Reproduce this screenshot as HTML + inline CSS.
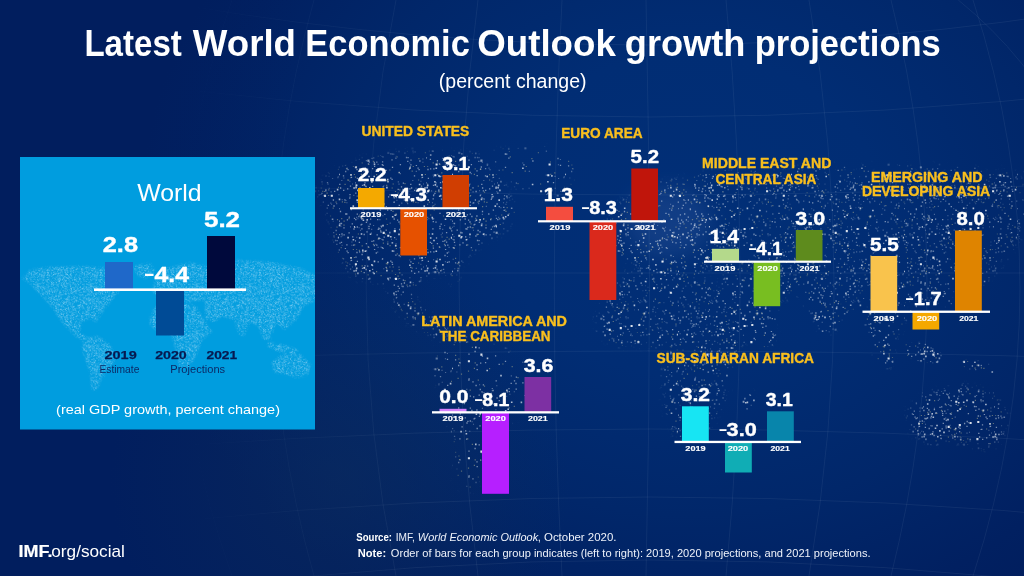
<!DOCTYPE html>
<html lang="en"><head><meta charset="utf-8"><title>Latest World Economic Outlook growth projections</title>
<style>
html,body{margin:0;padding:0;background:#011e5f;}
body{width:1024px;height:576px;overflow:hidden;}
svg{display:block;font-family:"Liberation Sans",sans-serif;}
</style></head><body>
<svg width="1024" height="576" viewBox="0 0 1024 576">
<defs>
<radialGradient id="bg" gradientUnits="userSpaceOnUse" cx="690" cy="215" r="550" gradientTransform="translate(690 215) scale(1 0.84) translate(-690 -215)">
<stop offset="0" stop-color="#012f77"/>
<stop offset="0.35" stop-color="#012d74"/>
<stop offset="0.65" stop-color="#01276a"/>
<stop offset="0.9" stop-color="#012061"/>
<stop offset="1" stop-color="#011e5e"/>
</radialGradient>
<linearGradient id="lf" x1="0" x2="1" y1="0" y2="0">
<stop offset="0" stop-color="#011e5e" stop-opacity="0.5"/>
<stop offset="1" stop-color="#011e5e" stop-opacity="0"/>
</linearGradient>
<radialGradient id="gr" gradientUnits="userSpaceOnUse" cx="340" cy="480" r="230">
<stop offset="0" stop-color="#0e2e5c" stop-opacity="0.5"/>
<stop offset="1" stop-color="#0e2e5c" stop-opacity="0"/>
</radialGradient>
<pattern id="dA" width="113" height="97" patternUnits="userSpaceOnUse"><path d="M17.0 63.1h0M60.6 35.5h0M57.3 3.6h0M70.9 91.9h0M97.0 28.1h0M13.3 29.9h0M6.7 20.0h0M47.2 73.4h0M55.3 3.8h0M43.6 64.9h0M52.2 16.3h0M6.7 74.5h0M28.0 37.9h0M99.9 92.9h0M19.9 22.5h0M54.8 57.1h0M0.5 40.6h0M64.0 92.5h0M45.1 10.0h0M18.3 33.0h0M0.0 14.7h0M41.1 2.5h0M39.3 35.3h0M95.9 96.3h0M38.7 25.7h0M41.4 16.2h0M25.2 78.7h0M31.6 25.1h0M24.9 22.0h0M23.1 60.5h0M17.1 87.8h0M27.2 56.9h0M47.3 12.7h0M0.4 77.5h0M53.5 70.3h0M13.7 42.9h0M27.2 7.1h0M80.9 64.0h0M99.8 93.9h0M107.6 38.6h0M48.8 50.0h0M22.1 30.9h0M30.0 3.8h0M16.9 89.2h0M77.8 41.3h0M106.0 61.5h0M97.5 44.0h0M62.5 89.9h0M14.6 51.1h0M12.4 15.7h0M22.8 30.3h0M85.8 28.1h0M28.3 1.5h0M39.3 5.3h0M8.0 71.9h0M18.4 8.2h0M27.4 28.4h0M108.7 94.3h0M40.3 0.1h0M53.6 48.8h0M57.0 0.5h0M10.1 38.8h0M2.5 29.5h0M66.2 51.3h0M15.0 35.0h0M94.4 54.2h0M8.4 25.8h0M28.7 72.1h0M64.2 1.2h0M30.4 65.2h0M101.0 19.3h0M59.2 92.4h0M92.7 49.3h0M55.6 43.7h0M15.9 33.4h0M94.9 0.2h0M42.1 38.1h0M94.3 27.7h0M33.6 71.7h0M63.0 38.3h0M18.3 20.2h0M21.7 8.8h0M10.3 23.2h0M64.4 86.1h0M31.4 93.9h0M56.9 61.1h0M45.2 43.2h0M3.6 68.8h0M44.2 89.9h0M12.3 15.0h0M71.9 67.8h0M7.9 50.9h0M108.5 68.4h0M2.5 48.3h0M38.2 40.8h0M25.0 73.8h0M107.6 48.1h0M25.2 40.5h0M24.1 94.5h0M5.9 5.8h0M101.5 85.7h0M21.0 90.8h0M42.2 32.2h0M0.3 27.1h0M108.0 12.0h0" stroke="#ffffff" stroke-opacity="0.48" stroke-width="1.3" stroke-linecap="square" fill="none"/><path d="M7.9 8.8h0M93.4 12.0h0M44.8 94.7h0M42.1 53.1h0M51.2 29.1h0M59.3 84.9h0M65.5 44.3h0M112.2 79.7h0M99.8 79.5h0M7.0 6.5h0M54.7 8.3h0M3.1 51.2h0M40.2 2.8h0M14.8 1.4h0M102.2 40.8h0M2.1 42.7h0M36.8 50.3h0M88.6 10.3h0M28.1 26.9h0M57.1 49.7h0M106.4 67.8h0M106.6 81.5h0M111.9 80.7h0M2.0 32.2h0M57.9 6.2h0M103.0 79.4h0M79.1 8.7h0M20.1 33.7h0M105.6 10.3h0M17.8 43.2h0M27.6 93.7h0M4.9 81.0h0M94.3 78.1h0M70.8 66.0h0M0.4 77.4h0M77.3 74.4h0M72.6 7.5h0M52.5 45.2h0M92.6 93.9h0M30.4 20.4h0M31.1 4.7h0M21.5 36.2h0M103.2 91.2h0M81.3 4.8h0M32.3 4.8h0M42.6 32.8h0M77.1 91.3h0M62.3 3.8h0M34.3 12.4h0M43.9 21.7h0M1.2 29.2h0M108.4 62.5h0" stroke="#ffffff" stroke-opacity="0.3" stroke-width="1.1" stroke-linecap="square" fill="none"/><path d="M20.4 56.4h0M48.3 30.5h0M79.0 23.7h0M32.5 95.1h0M86.4 55.6h0M106.7 46.0h0M6.9 68.0h0M58.3 59.9h0M6.1 87.3h0M98.8 77.4h0M18.2 2.2h0M60.2 75.6h0M83.6 22.0h0M108.1 43.4h0M90.4 8.2h0M102.8 75.9h0M54.0 17.3h0M37.6 77.7h0M16.5 80.2h0M23.8 24.4h0M57.4 54.5h0M103.1 43.0h0M51.1 51.7h0M88.6 87.0h0M2.2 53.7h0M30.6 12.6h0M9.5 83.1h0M62.3 18.4h0M48.8 48.0h0M44.4 49.1h0M111.0 33.2h0M79.9 61.7h0M98.4 65.0h0M74.3 69.5h0M15.7 50.8h0M66.0 86.6h0M78.3 22.3h0M56.8 51.9h0M7.5 71.5h0M23.2 71.8h0M76.4 28.2h0M94.8 11.6h0M50.9 73.0h0M46.6 40.1h0M96.7 94.3h0M73.2 74.2h0M26.3 89.2h0M47.5 25.0h0M104.5 22.0h0M22.4 77.3h0M57.1 19.9h0M107.2 14.2h0M112.7 90.4h0M3.6 64.4h0" stroke="#cfc68e" stroke-opacity="0.45" stroke-width="1.2" stroke-linecap="square" fill="none"/><path d="M35.5 67.4h0M9.1 43.6h0M31.5 40.3h0M69.4 14.4h0M59.7 14.2h0M111.6 92.6h0M95.0 46.5h0M81.9 16.5h0M49.0 84.6h0M40.0 44.4h0M56.7 51.6h0M106.5 25.2h0M44.0 31.6h0M70.9 71.2h0M23.8 56.4h0M79.5 22.4h0M54.9 2.4h0M80.6 87.5h0M28.2 25.8h0M99.9 78.8h0M14.4 45.8h0M56.2 21.3h0M112.6 43.6h0M24.4 26.3h0M95.9 84.7h0M53.5 57.0h0M53.7 22.8h0M35.2 79.5h0" stroke="#ffffff" stroke-opacity="0.68" stroke-width="1.6" stroke-linecap="square" fill="none"/><path d="M97.6 67.5h0M96.3 78.2h0M44.7 38.9h0M74.3 34.0h0M73.4 51.1h0M89.1 94.3h0M16.9 70.2h0M55.8 37.1h0M105.8 1.7h0M66.6 35.0h0M29.4 63.6h0" stroke="#ffffff" stroke-opacity="0.85" stroke-width="2.1" stroke-linecap="square" fill="none"/></pattern>
<pattern id="dB" width="71" height="83" patternUnits="userSpaceOnUse"><path d="M33.6 30.9h0M4.4 76.4h0M53.1 74.6h0M19.3 79.5h0M19.6 0.3h0M17.8 35.7h0M25.7 64.9h0M14.0 62.5h0M4.6 2.8h0M6.8 41.4h0M44.0 56.0h0M59.7 24.4h0M17.6 20.4h0M62.8 48.0h0M28.1 82.4h0M13.5 80.8h0M10.0 16.9h0M42.6 54.1h0M0.8 27.2h0M56.5 45.5h0M7.2 32.8h0M49.4 34.0h0M21.8 79.1h0M40.2 29.6h0M61.4 82.7h0M14.0 60.4h0M0.4 74.8h0M39.2 53.2h0M35.8 12.1h0M37.0 76.8h0M34.8 66.8h0M65.8 32.2h0M55.8 18.4h0M60.1 68.8h0M15.5 33.2h0M51.5 74.5h0M39.9 62.9h0M59.5 9.8h0M29.8 48.4h0M52.1 64.5h0M67.5 11.3h0M56.0 77.2h0M24.9 62.8h0M63.7 22.8h0M11.4 77.7h0M70.5 52.3h0M56.6 22.0h0M45.4 81.7h0M2.4 12.4h0M7.6 29.6h0M41.4 48.9h0M44.3 39.4h0M66.5 20.2h0M6.8 53.0h0M0.8 53.5h0M64.1 3.7h0M55.3 1.0h0M43.2 42.1h0M21.3 4.0h0M60.0 61.9h0M7.5 19.3h0M23.8 62.2h0M39.3 36.2h0M52.8 78.4h0M17.0 75.3h0M44.2 6.5h0M66.0 28.6h0M2.0 3.5h0M58.0 68.0h0M7.9 2.9h0M6.9 62.9h0M22.7 35.2h0M18.2 23.5h0M0.1 16.8h0M35.1 28.8h0M15.2 58.1h0M55.9 57.9h0M28.0 73.9h0M63.1 2.1h0M18.7 74.8h0M32.7 44.1h0M23.2 12.9h0M31.2 64.2h0M49.9 70.0h0M11.1 20.5h0M37.1 13.4h0M13.4 80.9h0M27.3 81.7h0" stroke="#ffffff" stroke-opacity="0.48" stroke-width="1.3" stroke-linecap="square" fill="none"/><path d="M18.6 59.5h0M67.9 79.2h0M65.9 15.2h0M23.1 81.4h0M26.5 61.3h0M16.4 67.1h0M58.2 69.8h0M66.0 30.9h0M44.0 18.1h0M45.4 7.6h0M58.2 33.7h0M27.2 10.2h0M39.1 52.0h0M46.8 37.1h0M1.7 51.4h0M16.7 63.4h0M7.6 10.7h0M6.5 36.7h0M2.9 52.8h0M3.9 41.8h0M67.9 76.0h0M22.7 3.1h0M25.5 72.5h0M41.2 73.3h0M47.1 25.9h0M30.7 42.6h0M24.9 53.6h0M66.5 60.9h0M28.8 19.7h0M66.8 11.8h0M57.8 14.5h0M52.7 37.6h0M68.5 18.0h0M49.2 55.2h0M2.2 34.3h0M54.9 28.8h0M34.9 66.1h0M7.8 52.8h0M26.9 73.4h0M9.0 38.3h0" stroke="#ffffff" stroke-opacity="0.3" stroke-width="1.1" stroke-linecap="square" fill="none"/><path d="M58.4 35.9h0M54.4 3.4h0M65.1 52.6h0M52.4 68.3h0M43.1 27.2h0M31.7 19.4h0M60.1 55.1h0M70.4 8.5h0M67.1 8.8h0M13.1 25.9h0M32.5 14.9h0M13.8 81.5h0M10.2 41.7h0M63.6 14.0h0M8.2 44.0h0M31.4 14.7h0M3.4 68.0h0M1.6 0.2h0M60.0 59.1h0M37.2 22.0h0M23.2 73.1h0M60.9 36.3h0M40.5 25.5h0M45.0 57.9h0M4.7 49.0h0M57.7 52.6h0M44.8 23.9h0M26.1 26.6h0M38.2 18.0h0M69.4 0.4h0M18.5 78.3h0M44.6 29.5h0M53.5 53.6h0M47.0 61.6h0M7.2 79.9h0M52.1 36.1h0" stroke="#cfc68e" stroke-opacity="0.45" stroke-width="1.2" stroke-linecap="square" fill="none"/><path d="M14.7 29.6h0M13.7 30.2h0M2.2 34.1h0M1.7 19.4h0M70.1 22.0h0M2.9 24.4h0M31.9 21.6h0M32.7 13.5h0M6.3 51.6h0M14.0 10.5h0M69.3 40.1h0M44.0 68.4h0M70.7 60.8h0M14.8 21.8h0M9.4 18.9h0M55.5 33.4h0M55.6 59.4h0M1.1 21.6h0M10.3 2.2h0M4.7 72.0h0M67.0 8.9h0M35.8 70.7h0M6.5 68.0h0M16.9 15.9h0" stroke="#ffffff" stroke-opacity="0.68" stroke-width="1.6" stroke-linecap="square" fill="none"/><path d="M41.0 29.9h0M33.3 69.7h0" stroke="#ffffff" stroke-opacity="0.85" stroke-width="2.1" stroke-linecap="square" fill="none"/></pattern>
<pattern id="dW" width="53" height="47" patternUnits="userSpaceOnUse"><path d="M33.8 5.0h0M20.6 1.6h0M41.9 32.6h0M33.5 21.8h0M32.0 19.0h0M39.7 19.8h0M38.3 41.4h0M34.0 21.3h0M33.3 4.6h0M41.5 33.5h0M13.3 19.9h0M32.9 19.2h0M49.3 8.6h0M41.2 18.3h0M51.7 1.8h0M8.5 36.7h0M28.7 33.7h0M33.9 39.0h0M21.7 44.6h0M36.3 18.4h0M3.0 12.9h0M0.7 19.7h0M37.0 16.5h0M11.9 34.8h0M41.2 38.0h0M24.9 26.4h0M51.1 16.6h0M43.4 38.4h0M15.6 25.8h0M44.2 16.7h0M22.6 8.7h0M38.3 13.2h0M16.0 22.5h0M33.8 31.0h0M49.2 40.2h0M43.9 42.6h0M0.8 0.5h0M7.6 11.0h0M47.4 37.0h0M39.3 20.6h0M7.4 23.2h0M24.8 6.8h0M26.4 25.4h0M29.8 31.3h0M1.5 28.7h0M49.4 15.5h0M17.9 40.5h0M25.2 24.7h0M29.4 38.9h0M43.9 19.0h0M14.4 23.8h0M16.8 14.1h0M33.6 36.9h0M38.3 41.6h0M2.6 14.1h0M10.1 43.3h0M34.9 37.1h0M36.9 28.0h0M11.3 31.3h0M40.4 4.8h0M2.0 36.4h0M16.0 19.8h0M22.8 30.2h0M6.3 38.1h0M48.7 21.0h0M20.5 27.8h0M5.4 30.3h0M8.0 0.7h0M36.2 5.7h0M0.9 33.8h0M38.9 8.8h0M41.0 33.5h0M37.6 21.6h0M43.3 3.7h0M38.7 7.8h0M30.5 20.6h0M7.7 37.5h0M34.2 29.6h0M20.4 37.0h0M3.2 45.8h0M51.8 39.1h0M16.4 20.1h0M47.5 38.0h0M0.1 12.4h0M31.1 38.4h0M45.1 37.9h0M48.4 16.3h0M29.3 37.5h0M39.8 43.8h0M32.2 31.9h0M10.9 12.0h0M42.7 36.3h0M30.7 42.2h0M10.0 9.0h0M37.2 17.1h0M21.3 24.3h0M2.4 46.9h0M5.6 29.7h0M27.5 1.0h0M52.5 40.7h0M30.1 12.3h0M2.0 9.4h0M4.4 2.4h0M46.1 21.5h0M21.1 5.6h0M50.7 31.5h0M23.8 7.5h0M13.6 16.5h0M41.7 33.4h0M52.2 2.6h0M40.0 44.2h0M15.8 27.8h0M6.6 22.6h0M12.6 6.7h0M0.7 33.7h0M1.9 43.6h0M49.5 40.7h0M49.2 39.6h0M24.0 16.0h0M11.7 2.7h0M14.4 39.5h0M8.9 23.1h0M47.9 5.4h0M11.2 22.4h0M13.7 9.5h0M52.5 46.9h0M51.9 0.8h0M44.1 24.7h0M23.1 42.9h0M30.3 6.5h0M40.8 33.4h0M4.2 4.1h0M26.3 12.9h0M32.5 33.3h0M38.8 19.2h0M44.6 40.6h0M0.8 42.8h0M46.2 12.5h0M44.1 17.3h0M19.7 28.0h0M27.6 21.0h0M6.4 33.6h0M46.3 44.8h0M27.2 24.9h0M1.1 45.5h0M9.7 4.8h0M43.3 1.4h0M37.0 9.2h0M31.8 27.1h0M37.2 4.8h0M26.2 23.5h0M6.5 19.1h0M31.4 40.5h0M30.4 35.1h0M43.8 44.1h0M22.3 39.5h0M21.0 44.2h0M23.1 46.1h0M33.5 17.1h0M3.7 20.4h0M1.1 6.6h0M42.9 41.6h0M36.0 12.9h0M49.0 29.2h0M27.6 20.4h0M6.4 27.9h0M28.3 7.0h0M7.0 13.8h0M15.3 11.4h0M29.0 39.5h0M30.2 30.6h0M37.6 21.7h0M32.5 22.0h0M12.8 10.4h0M20.3 27.5h0M18.7 40.5h0M29.5 23.1h0M52.3 13.9h0M23.3 34.6h0M11.9 45.1h0M35.8 29.0h0M41.6 33.3h0M40.6 27.5h0M51.0 26.9h0M41.5 41.0h0M20.1 21.3h0M38.3 13.8h0M29.4 18.1h0M41.7 39.9h0M23.5 8.7h0M7.7 27.0h0M4.7 43.2h0M44.7 39.4h0M26.4 43.3h0M27.4 32.2h0M19.0 28.0h0M50.2 31.8h0M5.2 17.6h0M29.8 27.0h0M33.1 46.8h0M28.1 38.3h0M16.9 46.0h0M15.4 24.0h0M10.0 8.6h0M32.0 16.6h0M41.7 14.4h0M0.2 14.3h0M26.4 26.0h0M34.3 25.0h0M8.3 35.7h0M5.3 8.0h0M43.6 28.8h0M9.0 12.5h0M47.9 27.4h0M23.8 18.1h0M47.2 27.4h0M2.3 43.7h0M20.7 33.8h0M16.4 41.1h0M42.0 11.4h0M19.0 8.8h0M28.3 18.1h0M3.5 5.8h0M15.0 11.1h0M35.2 16.0h0M37.4 4.4h0M44.3 6.0h0M44.3 37.8h0M18.7 34.0h0M50.8 9.8h0M6.9 33.2h0M47.7 27.6h0M13.1 28.6h0M46.2 5.8h0M28.8 12.7h0M16.5 18.3h0M9.4 40.0h0M35.1 5.1h0M19.2 23.5h0M3.5 14.6h0M6.7 33.7h0M21.4 42.7h0M14.7 1.4h0M35.2 16.5h0M34.9 32.9h0M44.9 16.5h0M9.6 5.4h0M2.1 7.6h0M16.1 17.9h0M16.5 30.0h0M44.5 26.8h0M18.5 0.0h0M45.3 28.5h0M13.0 5.2h0M39.6 39.0h0M4.8 44.5h0M49.3 32.5h0M2.9 32.8h0M27.1 43.6h0M40.4 2.1h0M51.4 30.0h0M13.2 2.8h0M21.8 9.5h0M7.2 33.2h0M12.6 11.4h0M23.6 44.0h0M15.9 41.6h0M29.9 15.7h0M35.3 28.1h0M40.6 39.1h0M15.3 16.9h0M3.2 13.2h0M37.2 21.1h0M17.2 22.0h0M8.9 3.4h0M52.6 35.3h0M38.0 46.1h0M5.8 23.0h0M10.1 25.5h0M48.7 30.3h0M49.6 30.7h0M13.0 6.5h0M41.0 39.5h0M9.8 30.0h0M9.8 38.8h0M19.5 25.9h0M44.1 11.3h0M30.0 29.5h0M15.9 27.3h0M36.5 7.7h0M51.4 4.2h0M23.3 9.0h0M35.1 24.2h0M17.9 20.6h0M43.8 42.5h0M15.7 20.8h0M18.4 9.2h0M17.2 21.6h0M15.7 26.8h0M18.2 41.6h0M10.0 31.9h0M4.5 31.0h0M30.8 19.6h0M29.9 18.6h0M9.6 41.8h0M6.0 40.5h0M5.0 24.9h0M25.9 26.0h0M30.4 5.3h0M31.2 3.8h0M3.9 20.7h0M9.1 45.1h0M41.1 6.4h0M0.8 27.9h0M15.9 33.2h0M47.1 29.2h0M40.5 32.0h0M32.0 4.7h0M42.6 5.3h0M23.7 39.4h0M6.0 1.0h0M42.4 8.7h0M15.4 32.3h0M7.6 41.1h0M36.5 38.0h0M26.6 41.0h0M8.4 39.7h0M46.3 28.7h0M17.5 10.2h0M19.1 22.0h0M20.6 16.6h0M30.7 15.7h0M24.3 46.4h0M7.7 31.5h0M14.5 23.5h0M30.2 24.8h0M40.9 41.0h0M14.9 37.4h0M40.5 34.8h0M33.7 16.5h0M21.5 2.8h0M17.1 46.5h0M19.5 11.4h0M18.5 6.4h0M46.2 21.3h0M30.1 14.2h0M3.5 14.2h0M38.5 25.9h0M4.2 8.4h0M52.3 16.8h0M25.7 42.3h0M13.6 1.1h0M14.2 33.1h0M21.2 9.4h0M45.8 30.5h0M38.9 45.3h0M4.2 38.0h0M28.5 41.1h0M48.9 10.0h0M39.7 30.5h0M36.0 15.9h0M22.0 2.1h0M17.7 23.2h0M13.6 21.8h0M49.0 26.5h0M7.6 36.1h0M43.1 19.9h0M31.2 26.1h0M31.9 15.5h0M27.7 44.2h0M0.5 22.4h0M41.0 17.0h0M1.5 6.3h0M26.6 26.1h0M49.8 17.2h0M9.4 34.7h0M33.7 16.2h0M34.2 18.9h0M48.7 44.4h0M11.9 11.8h0M23.0 10.9h0M40.2 30.2h0M52.7 10.2h0M8.3 40.6h0M47.2 7.6h0M31.7 21.3h0M46.8 9.9h0M51.6 0.4h0M8.9 32.1h0M18.0 43.2h0M12.4 37.2h0M2.0 23.7h0M22.8 4.9h0M52.5 14.9h0M22.7 8.4h0M7.8 34.7h0M6.0 16.6h0M48.7 16.4h0M51.3 41.5h0M3.7 2.0h0M21.6 26.2h0M0.6 32.3h0M28.8 25.8h0M52.1 41.1h0M51.6 18.2h0M21.7 6.7h0M12.8 9.3h0M44.7 36.8h0M34.2 25.8h0M51.5 0.0h0M52.7 11.0h0M39.4 17.8h0M35.9 15.1h0M28.8 10.5h0M14.0 42.7h0M38.2 24.5h0M11.7 6.7h0M43.1 11.2h0M43.6 21.6h0M43.9 42.0h0M13.3 4.8h0M42.6 24.5h0M4.7 18.6h0M42.3 35.7h0M36.0 17.2h0M12.6 17.4h0M20.2 0.8h0M30.2 2.7h0M38.1 12.9h0M12.8 39.2h0M33.7 40.4h0M22.4 37.2h0M19.7 2.1h0M19.5 33.5h0M21.6 30.5h0M49.0 9.0h0M17.5 3.3h0M47.8 35.6h0M31.4 21.7h0M44.5 19.5h0M47.2 20.7h0M27.1 38.8h0M39.2 18.9h0M36.0 26.0h0M4.1 38.4h0M4.7 35.4h0M2.9 32.0h0M22.1 27.4h0M17.7 24.4h0M52.4 12.9h0M16.6 12.0h0M2.7 14.3h0M10.7 2.4h0M19.8 21.8h0M30.9 17.2h0M2.7 14.8h0M21.7 26.6h0M14.5 37.4h0M37.7 37.7h0M24.1 43.9h0M46.5 2.7h0M33.9 2.3h0M48.9 26.4h0M15.6 9.9h0M5.3 4.5h0M13.7 42.6h0M8.2 2.7h0M2.2 39.3h0M12.3 27.4h0M29.7 7.2h0M42.4 46.1h0M1.7 17.9h0M11.8 25.6h0M24.6 34.2h0M36.0 5.4h0M18.4 35.3h0M49.3 4.4h0M45.8 28.1h0M4.7 6.6h0M47.3 39.7h0M49.0 1.5h0M51.3 16.2h0M23.8 11.6h0M3.7 26.3h0M29.2 37.0h0M24.5 1.6h0M5.2 30.4h0M30.6 16.6h0M35.1 7.7h0M49.9 15.6h0M5.0 41.3h0M26.3 25.2h0M24.8 7.7h0M26.9 17.2h0M21.4 9.6h0M12.7 41.0h0M47.2 0.7h0M36.5 10.8h0M20.8 24.4h0M47.2 4.0h0M12.4 28.0h0M31.8 46.2h0M32.8 32.5h0M48.8 0.5h0M13.0 34.5h0M8.0 16.2h0M10.5 10.3h0M51.7 46.9h0M10.5 29.4h0M43.9 44.0h0M50.9 25.0h0M10.5 21.5h0M26.1 42.7h0M37.7 18.4h0M34.6 39.3h0M31.5 39.3h0M5.9 38.2h0M32.1 21.5h0M11.3 16.6h0M14.4 33.0h0M35.0 37.9h0M36.2 2.0h0M26.5 44.9h0M52.4 8.9h0M9.3 44.4h0M42.9 11.8h0M5.3 26.0h0M33.1 20.9h0M19.9 24.5h0M48.1 23.4h0M51.7 2.7h0M39.8 41.9h0M7.3 44.8h0M2.5 18.4h0M51.8 30.5h0M8.6 27.0h0M27.3 41.2h0M39.1 8.0h0M2.8 14.0h0M51.2 45.2h0M16.4 44.4h0M17.0 20.6h0M13.8 18.5h0M51.1 12.5h0M48.2 21.2h0M8.1 35.6h0M29.6 31.5h0M13.8 36.3h0M43.8 26.6h0M49.8 12.5h0M3.7 25.8h0M51.3 29.8h0M41.1 18.5h0M42.7 16.4h0M46.2 25.0h0M35.5 42.4h0M18.0 3.1h0M26.6 40.0h0M30.6 19.0h0M14.5 39.7h0M40.0 23.5h0M37.3 33.1h0M14.6 3.2h0M43.7 12.8h0M11.9 4.4h0M51.7 37.7h0M37.1 3.4h0M7.4 12.9h0M23.6 26.1h0M11.9 29.6h0M17.5 26.7h0M42.1 9.8h0M41.2 1.3h0M22.5 3.0h0M38.4 27.5h0M27.1 27.7h0M46.0 46.8h0M24.1 32.1h0M21.4 13.3h0M39.0 24.3h0M10.5 33.1h0M14.1 26.3h0M45.8 33.9h0M14.0 16.7h0M33.5 46.6h0M2.3 8.2h0M47.6 37.8h0M5.4 5.0h0M41.2 22.1h0M43.6 6.0h0M29.9 23.9h0M13.4 1.0h0M43.0 39.5h0M0.7 10.1h0M20.1 0.4h0M47.1 25.1h0M17.1 29.4h0M12.9 42.6h0M5.5 27.8h0M10.6 21.5h0M33.7 33.2h0M3.6 34.1h0M24.9 18.8h0M37.8 11.3h0M36.7 22.2h0M48.2 28.2h0M12.6 46.4h0M20.8 37.0h0M5.0 45.9h0M49.3 10.3h0M49.3 30.0h0M40.1 4.9h0M41.7 41.8h0M43.5 23.6h0M31.5 37.6h0M2.9 25.6h0M21.0 0.4h0M11.0 20.2h0M51.8 25.7h0M5.0 34.3h0M16.0 35.8h0M32.1 46.0h0M36.7 28.1h0M24.1 19.1h0M34.4 43.1h0M45.0 20.2h0M37.4 11.9h0M18.5 15.2h0M23.5 46.1h0M49.4 35.8h0M13.2 19.4h0M12.2 41.7h0M5.6 38.8h0M33.2 17.3h0M51.2 7.6h0M34.4 25.3h0M51.3 4.2h0M15.2 42.6h0M13.8 33.6h0M36.6 35.1h0M36.6 9.8h0M51.1 30.2h0M34.8 28.1h0M16.1 3.0h0M0.8 17.0h0M6.0 23.2h0M21.7 32.4h0M38.6 4.5h0M43.9 10.6h0M0.5 8.9h0M35.0 8.5h0M5.1 46.2h0M34.6 26.8h0M3.4 0.7h0M38.3 6.5h0M5.9 11.7h0M20.4 17.2h0M25.0 40.9h0M35.2 39.3h0M1.6 20.6h0M24.4 33.4h0M6.2 22.5h0M12.2 20.7h0M3.6 17.0h0M49.6 26.1h0M11.8 35.0h0M46.1 45.2h0M12.7 8.0h0M49.0 21.7h0M10.9 31.2h0M6.3 46.3h0M9.5 0.5h0M27.3 1.2h0M39.2 25.2h0M26.4 28.4h0M7.7 37.8h0M47.8 8.5h0M31.7 42.4h0M11.5 1.7h0M7.4 9.0h0M36.0 0.6h0M50.3 23.1h0M12.0 45.2h0M21.6 16.1h0M1.2 17.6h0M43.9 0.0h0M13.7 21.3h0M37.7 6.5h0M6.4 45.1h0M7.3 24.5h0M47.0 2.7h0M8.9 27.5h0M21.7 41.8h0M45.6 45.0h0M49.9 19.2h0M48.5 4.9h0M15.4 13.6h0M45.0 37.9h0M27.2 5.5h0M34.9 27.6h0M4.0 42.2h0M9.6 32.5h0M12.5 17.2h0M35.9 3.5h0M42.4 0.5h0M35.9 33.3h0M9.6 45.0h0M14.1 1.7h0M21.5 19.8h0M30.9 44.3h0M18.9 33.1h0M9.3 22.6h0M35.8 7.6h0M51.0 36.0h0M28.3 34.1h0M3.7 0.2h0M36.9 0.2h0M14.1 33.4h0M27.7 15.0h0M25.4 12.2h0M4.4 7.6h0M33.1 32.7h0M42.0 34.3h0M26.1 8.9h0M36.7 18.1h0M37.5 37.8h0M29.9 6.5h0M30.9 5.1h0M12.8 12.2h0M28.3 34.0h0M38.4 10.4h0M33.9 32.5h0M47.8 9.6h0M35.1 12.3h0M12.0 36.3h0M2.6 24.1h0M49.4 41.2h0M10.5 5.6h0M27.6 17.1h0M3.7 18.2h0M13.4 31.4h0M16.9 22.4h0M49.2 43.9h0M5.6 21.4h0M14.8 1.8h0M32.8 14.1h0M39.8 36.2h0M4.5 18.5h0M51.1 2.4h0M40.7 6.3h0M3.7 7.7h0M44.2 7.9h0M40.5 20.0h0M6.5 11.4h0M50.7 28.4h0M24.7 33.7h0M13.1 12.0h0M52.5 7.0h0M43.5 40.6h0M0.6 35.9h0M47.7 44.7h0M45.0 38.5h0M19.4 17.6h0M20.0 5.2h0M48.2 19.3h0M47.0 35.5h0M48.7 37.8h0M44.5 6.3h0M17.8 38.6h0M44.7 39.9h0M46.1 25.7h0M18.0 36.8h0M13.2 4.7h0M1.4 37.4h0M3.7 3.2h0M42.5 44.8h0M33.5 42.1h0M47.7 34.5h0M46.3 26.9h0M31.1 39.0h0M25.7 19.6h0M19.3 45.1h0M6.6 43.0h0M31.3 20.3h0M43.5 37.1h0M11.8 35.0h0M17.4 34.4h0M29.0 23.5h0M7.6 45.0h0M48.2 25.9h0M47.6 42.3h0M7.6 29.7h0M14.6 19.8h0M24.8 4.3h0M18.0 33.7h0M9.3 28.3h0M4.6 3.3h0M33.9 46.9h0M40.6 11.5h0M8.5 19.3h0M16.1 7.6h0M4.5 9.1h0M26.7 8.6h0M23.3 45.7h0M50.1 22.2h0M31.4 6.8h0M3.9 33.0h0M18.7 32.5h0M8.1 40.6h0M0.3 39.9h0M29.4 31.1h0M45.1 37.2h0M35.9 16.0h0M6.1 42.2h0M26.3 17.1h0M20.5 28.6h0M19.2 42.9h0M14.6 15.6h0M10.2 2.8h0M14.0 34.5h0M48.9 4.2h0M46.3 35.4h0M51.8 1.8h0M6.6 1.0h0M9.6 28.6h0M51.4 17.0h0M12.3 45.8h0M8.1 16.5h0M1.8 20.7h0M50.0 40.4h0M20.3 32.5h0M42.5 36.9h0M0.3 37.5h0M35.5 26.8h0M20.0 12.6h0M40.2 12.3h0M8.4 40.3h0M14.6 43.4h0M49.3 35.6h0M40.3 26.9h0M14.7 5.3h0M38.7 30.5h0M26.2 33.9h0M34.7 13.1h0M48.8 44.3h0M6.3 35.2h0M36.0 2.5h0M33.8 17.7h0M43.2 1.6h0M4.6 40.0h0M38.1 34.3h0M49.4 8.7h0M43.2 5.6h0M26.5 15.8h0M49.3 22.3h0M48.0 28.8h0M45.3 20.8h0M48.4 37.9h0M39.5 10.9h0M43.6 45.2h0M21.5 7.9h0M24.9 23.2h0M19.5 26.0h0M1.5 9.6h0M15.1 29.6h0M50.3 32.2h0M50.3 29.8h0M45.7 31.5h0M32.1 14.1h0M0.5 26.0h0M26.9 5.6h0M51.4 14.7h0M0.5 19.5h0M10.7 8.4h0M46.7 24.2h0M51.2 19.0h0M3.6 39.0h0M7.8 17.1h0M50.5 46.7h0M38.5 25.9h0M47.7 12.0h0M8.4 7.0h0M42.4 7.5h0M30.4 26.3h0M28.8 0.7h0M22.4 11.1h0M4.9 22.4h0M17.8 36.0h0M35.5 39.2h0M26.7 43.4h0M9.6 3.3h0M17.6 4.2h0M22.5 14.5h0M49.6 11.5h0M16.2 15.2h0M2.4 5.8h0M3.1 23.8h0M5.4 34.9h0M23.0 31.1h0M47.8 0.2h0M21.1 9.3h0M36.4 46.7h0M14.1 31.5h0M21.2 32.4h0M8.3 3.3h0M52.5 43.2h0M26.6 23.0h0M35.5 23.3h0M6.7 32.2h0M30.6 45.9h0M37.9 37.6h0M17.1 2.5h0M38.3 16.4h0M19.4 33.5h0M51.8 20.6h0M4.8 34.1h0M35.6 0.2h0M18.7 41.1h0M10.4 24.4h0M17.9 17.6h0M31.2 10.5h0M26.7 23.7h0M35.2 8.7h0M14.6 36.2h0M49.1 24.0h0M15.4 18.9h0M16.2 16.9h0M41.6 30.8h0M33.7 32.6h0M3.2 16.9h0M51.0 24.7h0M51.2 37.8h0M17.9 5.1h0M14.3 22.9h0M51.6 8.6h0M14.9 43.3h0M13.5 1.0h0M20.1 0.5h0M40.3 15.6h0M33.1 8.9h0M35.7 28.7h0M10.6 40.2h0M17.1 1.7h0M34.2 28.3h0M6.5 10.0h0M22.1 17.1h0M45.4 11.4h0M20.0 1.8h0M20.2 10.7h0M41.2 39.6h0M20.5 37.6h0M13.8 35.4h0M52.6 4.3h0M11.3 0.1h0M4.8 17.3h0M26.9 13.6h0M27.1 23.2h0M45.6 9.8h0M29.9 13.3h0M50.6 17.4h0M34.8 25.0h0M17.4 39.7h0M22.1 45.0h0M21.3 7.6h0M35.2 21.0h0M12.3 37.1h0M44.1 17.6h0M25.0 9.3h0M34.2 32.6h0M34.2 6.4h0M9.1 23.9h0M29.2 6.3h0M32.7 6.3h0M36.0 25.7h0M41.3 26.9h0M23.5 39.0h0M39.9 17.1h0M51.4 38.6h0M5.6 28.8h0M49.5 45.7h0M43.9 24.5h0M47.2 20.7h0M1.4 15.8h0M3.8 29.3h0M8.5 13.8h0M48.8 42.6h0M49.0 26.0h0M45.7 6.7h0M24.6 36.9h0M10.4 44.9h0M39.5 39.1h0M36.8 18.6h0M11.5 44.8h0M27.0 23.6h0M39.9 35.0h0M38.8 30.9h0M27.8 7.2h0M43.1 4.4h0M33.7 22.7h0M30.7 10.2h0M0.1 37.5h0M44.0 26.0h0M33.2 5.9h0M35.7 44.8h0M5.3 19.4h0M7.9 10.4h0M30.6 8.9h0M28.5 20.7h0M44.4 0.8h0M41.4 14.4h0M19.7 22.6h0M34.1 32.5h0M29.2 34.5h0M44.5 40.9h0M13.2 4.0h0M4.6 23.0h0M15.9 21.7h0M41.8 34.0h0M11.8 0.4h0M5.7 32.8h0M40.1 19.4h0M50.2 24.1h0M23.2 36.1h0M47.2 19.2h0M29.7 21.7h0M13.0 26.2h0M33.5 39.6h0M6.9 14.1h0M34.8 30.9h0M23.4 15.3h0M17.8 6.0h0M15.2 37.2h0M28.9 38.0h0M38.8 3.2h0M9.5 18.6h0M22.0 5.8h0M15.9 45.5h0M23.1 10.7h0M5.8 2.0h0M46.3 9.5h0M40.4 13.0h0M27.5 20.0h0M22.1 1.6h0M48.5 14.2h0M37.6 3.0h0M25.1 0.7h0M11.8 3.8h0M10.3 24.3h0M43.5 19.6h0M12.8 39.5h0M39.3 4.6h0M31.1 33.9h0M26.3 8.8h0M14.9 27.5h0M14.6 30.2h0M42.5 23.3h0M6.1 23.9h0M38.1 17.6h0M47.3 12.9h0M10.8 46.9h0M42.9 26.2h0M45.8 8.2h0M32.7 9.1h0M37.8 4.5h0M5.5 22.4h0" stroke="#9ad7f5" stroke-opacity="0.3" stroke-width="0.8" stroke-linecap="square" fill="none"/><path d="M48.1 20.2h0M37.1 40.1h0M27.5 4.8h0M6.5 46.3h0M27.9 10.3h0M20.8 10.0h0M14.2 17.7h0M7.4 39.1h0M34.8 11.8h0M18.4 7.2h0M42.0 7.9h0M32.2 36.7h0M10.5 32.6h0M29.4 12.4h0M0.4 39.5h0M19.9 19.7h0M4.0 29.9h0M27.1 22.8h0M1.8 33.8h0M11.2 20.5h0M34.7 37.2h0M32.4 29.0h0M34.8 17.3h0M41.7 26.4h0M2.9 26.7h0M52.0 22.3h0M4.7 40.9h0M38.7 4.0h0M13.5 45.3h0M0.6 0.7h0M25.8 2.8h0M41.6 26.6h0M43.9 15.6h0M20.0 32.2h0M2.2 39.2h0M46.0 26.9h0M42.0 21.6h0M27.7 22.4h0M8.3 28.1h0M22.6 44.5h0M43.4 45.3h0M48.2 3.0h0M13.6 26.5h0M52.6 10.4h0M47.9 39.3h0M5.6 15.2h0M7.4 21.0h0M25.3 29.5h0M29.3 6.8h0M14.1 19.4h0M3.0 42.1h0M5.2 13.6h0M3.0 34.1h0M18.1 6.6h0M30.9 9.5h0M2.9 38.1h0M45.9 15.1h0M20.2 35.3h0M38.0 2.1h0M17.9 11.3h0M48.4 38.3h0M2.8 24.3h0M49.5 11.7h0M41.2 44.0h0M1.8 30.2h0M15.2 14.4h0M27.2 12.6h0M8.4 3.1h0M23.3 2.9h0M8.2 15.8h0M43.5 24.3h0M39.4 35.7h0M6.7 40.9h0M10.8 20.0h0M0.6 2.2h0M28.5 46.9h0M51.1 22.9h0M27.2 5.2h0M36.6 38.6h0M47.1 19.8h0M33.7 2.0h0M31.1 31.4h0M30.4 19.3h0M3.3 0.6h0M17.1 33.6h0M23.3 29.1h0M16.7 42.2h0M16.1 28.3h0M26.3 44.6h0M15.4 26.4h0M18.6 11.5h0M26.8 10.7h0M20.4 30.9h0M46.8 40.5h0M38.9 33.5h0M13.5 20.4h0M41.2 13.5h0M11.1 43.0h0M4.6 32.6h0M44.0 29.5h0M42.7 12.3h0M29.1 35.7h0M49.1 7.9h0M44.0 34.9h0M37.4 42.5h0M26.2 23.5h0M0.1 39.5h0M41.7 20.0h0M48.2 40.7h0M51.0 29.1h0M3.2 31.8h0M25.5 30.4h0M29.2 33.6h0M6.1 46.6h0M5.4 39.0h0M3.1 11.1h0M29.8 43.1h0M8.9 35.0h0M6.5 17.5h0M50.2 33.9h0M35.8 12.0h0M0.7 16.1h0M1.9 8.6h0M36.0 18.5h0M31.2 2.1h0M52.6 1.6h0M33.6 29.8h0M49.7 32.0h0M18.0 43.3h0M22.7 40.8h0M18.1 6.4h0M3.0 28.9h0M17.4 4.4h0M13.7 33.4h0M41.1 14.5h0M51.8 21.3h0M12.1 35.6h0M8.6 1.4h0M12.9 46.2h0M24.4 15.2h0M5.7 34.5h0M3.2 26.5h0M14.2 35.3h0M15.0 15.6h0M19.1 36.7h0M9.7 40.6h0M15.8 1.1h0M8.0 34.6h0M46.7 46.0h0M6.4 22.9h0M14.5 8.3h0M21.2 15.0h0M0.3 28.6h0M13.5 28.7h0M2.6 32.6h0M45.2 24.0h0M20.9 24.7h0M28.0 24.6h0M2.3 17.9h0M43.3 5.8h0M36.8 21.1h0M18.7 18.1h0M37.7 17.5h0M20.1 24.7h0M40.8 5.6h0M25.6 2.6h0M43.3 41.0h0M29.5 24.0h0M42.5 40.3h0M10.6 43.2h0M3.8 28.0h0M26.4 31.7h0M7.7 43.1h0M50.4 19.5h0M17.2 39.5h0M6.5 43.4h0M49.8 24.7h0M34.8 2.4h0M9.5 37.0h0M46.3 22.6h0M25.9 37.2h0M8.1 12.4h0M37.7 2.9h0M18.1 38.1h0M21.8 19.1h0M25.4 23.4h0M48.1 35.3h0M41.7 4.3h0M18.5 7.6h0M35.7 35.0h0M39.5 39.1h0M31.3 20.5h0M41.6 40.9h0M6.1 45.5h0M13.4 39.4h0M42.1 32.1h0M43.8 19.1h0M0.2 23.0h0M32.8 13.7h0M9.8 12.8h0M19.2 10.5h0M32.3 42.0h0M8.6 24.8h0M27.2 17.7h0M47.4 31.3h0M19.2 31.1h0M36.2 26.2h0M39.7 1.7h0M7.7 27.6h0M34.0 13.2h0M15.4 25.6h0M35.9 17.9h0M37.6 32.5h0M42.1 16.3h0M33.8 36.6h0M14.6 17.0h0M28.1 13.6h0M35.9 19.4h0M5.9 14.4h0M39.3 16.1h0M44.4 7.1h0M47.6 34.9h0M34.4 41.3h0M17.2 0.2h0M2.1 38.9h0M42.9 25.2h0M51.0 15.5h0M3.8 22.5h0M24.1 16.1h0M51.6 35.1h0M48.8 34.0h0M3.3 9.7h0M48.3 37.4h0M37.6 44.4h0M23.1 34.4h0M41.7 21.8h0M25.7 30.1h0M33.6 34.9h0M2.0 2.3h0M13.9 7.2h0M37.6 8.8h0M8.6 24.1h0M0.1 40.0h0M1.3 39.0h0M24.3 5.7h0M45.0 4.8h0M0.4 3.5h0M42.2 42.9h0M38.0 1.4h0M9.5 44.3h0M52.7 35.4h0M17.4 36.2h0M47.2 37.3h0M21.6 42.9h0M9.3 20.6h0M13.2 12.1h0M36.4 12.9h0M9.4 4.7h0M18.1 39.1h0M42.6 31.5h0M8.4 31.0h0M6.9 45.3h0M13.3 17.2h0M15.1 17.9h0M11.9 9.1h0M5.8 44.4h0M11.3 3.9h0M3.9 21.3h0M39.2 40.3h0M30.9 44.2h0M12.4 22.4h0M32.9 10.2h0M10.7 47.0h0M46.1 19.7h0M47.6 45.2h0M33.1 22.2h0M12.3 20.2h0M11.0 19.2h0M47.7 10.9h0M19.1 31.2h0M6.8 10.5h0M34.0 29.8h0M51.2 9.2h0M15.9 12.0h0M31.9 39.9h0M31.2 9.3h0M1.0 5.4h0M51.4 7.0h0M29.7 2.4h0M12.2 37.5h0M5.0 27.6h0M12.3 4.4h0M38.0 45.1h0M16.4 14.8h0M2.9 28.6h0M28.1 36.4h0M40.8 17.5h0M48.2 6.1h0M6.2 12.2h0M47.3 42.5h0M6.9 9.1h0M5.7 38.2h0M17.0 8.1h0M18.1 8.8h0M38.6 35.5h0M13.4 30.8h0M7.4 44.1h0M35.9 30.7h0M46.1 10.1h0M10.5 21.7h0M35.3 9.8h0M22.8 4.3h0M11.6 41.5h0M23.0 17.9h0M49.3 9.5h0M29.7 37.4h0M46.0 17.0h0M11.0 1.1h0M27.1 43.8h0M22.5 28.3h0M12.6 12.0h0M10.7 27.5h0M39.7 33.5h0M14.4 39.4h0M2.8 44.4h0M35.9 6.7h0M21.4 16.6h0M18.8 29.6h0M21.3 20.3h0M50.3 6.8h0M29.1 18.9h0M1.4 15.2h0M18.5 25.0h0M33.9 22.4h0M13.8 17.4h0M8.5 32.4h0M7.8 10.7h0M48.2 44.5h0M23.0 9.1h0M45.5 18.1h0M33.4 5.3h0M23.0 18.4h0M37.4 8.2h0M3.1 24.9h0M30.5 21.2h0M31.9 15.8h0M29.7 6.7h0M21.7 45.1h0M49.2 28.9h0M42.0 37.0h0M52.5 32.3h0M31.1 20.1h0M4.6 36.5h0M23.4 34.1h0M22.6 26.9h0M40.2 21.4h0M21.3 44.7h0M28.7 34.8h0M1.8 21.8h0M13.3 42.9h0M40.9 29.6h0M8.5 32.1h0M31.2 7.6h0M19.5 45.1h0M7.4 27.4h0M20.4 25.7h0M12.9 45.7h0M35.5 32.2h0M52.6 31.9h0M0.1 2.3h0M31.2 38.7h0M5.4 43.8h0M5.9 35.1h0M33.0 30.7h0M12.8 38.7h0M37.4 20.2h0M34.3 7.4h0M27.1 7.9h0M15.5 43.9h0M25.1 6.6h0M33.7 7.3h0M38.0 5.4h0M16.9 42.7h0M45.9 27.6h0M34.1 44.5h0M41.4 24.3h0M43.4 22.7h0M11.3 21.2h0M38.9 9.7h0M39.1 22.9h0M47.5 39.9h0M23.3 19.8h0M17.6 40.0h0M22.6 9.0h0M19.9 5.6h0M23.3 18.7h0M12.4 27.5h0M6.1 46.4h0M43.0 12.7h0M25.4 46.4h0M27.4 46.1h0M19.0 15.8h0M1.5 10.3h0M36.2 31.8h0M14.2 39.8h0M36.5 25.0h0M10.8 42.2h0M52.5 20.7h0M14.9 43.5h0M38.8 10.7h0M18.9 9.9h0M25.0 23.8h0M10.5 34.0h0M15.5 40.6h0M35.9 38.3h0M20.6 7.0h0M10.6 1.8h0M30.2 25.3h0M12.1 26.9h0M52.8 9.8h0M20.8 14.7h0M25.2 8.4h0M4.2 17.3h0M51.8 0.6h0M38.6 9.6h0M1.3 34.0h0M17.1 30.4h0M20.8 35.5h0M47.6 11.2h0M5.8 14.2h0M1.0 17.6h0M21.6 28.1h0M5.3 3.0h0M47.3 46.5h0M13.6 38.3h0" stroke="#bfe6fa" stroke-opacity="0.3" stroke-width="1.0" stroke-linecap="square" fill="none"/></pattern>
<filter id="blur" x="-10%" y="-10%" width="120%" height="120%"><feGaussianBlur stdDeviation="3.5"/></filter>
<filter id="blur8" x="-50%" y="-50%" width="200%" height="200%"><feGaussianBlur stdDeviation="10"/></filter>
<filter id="blur2" x="-10%" y="-10%" width="120%" height="120%"><feGaussianBlur stdDeviation="1.2"/></filter>
<linearGradient id="gmg" gradientUnits="userSpaceOnUse" x1="170" x2="430" y1="0" y2="0"><stop offset="0" stop-color="#000"/><stop offset="1" stop-color="#fff"/></linearGradient>
<mask id="gm" maskUnits="userSpaceOnUse" x="0" y="0" width="1024" height="576"><rect width="1024" height="576" fill="url(#gmg)"/></mask>
<mask id="mm" maskUnits="userSpaceOnUse" x="300" y="120" width="724" height="400">
<g filter="url(#blur)" fill="#fff"><polygon points="318,190 335,172 370,158 425,152 478,156 500,180 516,215 500,232 478,245 460,262 455,285 445,270 425,275 410,290 420,310 440,322 452,335 440,338 415,325 398,308 385,282 352,275 336,246 330,215"/><polygon points="488,152 545,150 575,160 570,185 548,200 525,190 505,178"/><polygon points="440,345 470,338 505,350 535,375 530,400 505,425 490,455 472,490 458,485 455,440 445,400 435,370"/><polygon points="606,225 618,205 640,192 662,184 700,176 722,172 722,262 690,272 650,268 622,258 608,244"/><polygon points="597,322 604,300 618,274 660,268 700,272 722,292 740,318 752,332 738,350 731,368 724,398 710,425 692,442 676,436 664,406 666,368 660,345 630,346 604,340"/><polygon points="722,172 790,167 880,167 960,169 1022,174 1022,235 1000,250 985,285 960,305 930,300 905,318 893,340 890,365 878,362 872,330 858,305 845,312 836,328 823,332 812,312 800,292 775,300 774,340 755,345 738,318 722,290"/><polygon points="909,410 925,395 960,386 990,392 1006,415 1000,440 985,448 960,440 930,442 912,432"/></g>
<g filter="url(#blur2)" fill="#fff"><polygon points="744,392 754,390 756,404 748,414 743,404"/><polygon points="900,345 925,343 942,355 938,363 915,360 902,353"/><polygon points="962,360 985,362 996,372 985,375 965,368"/><polygon points="804,288 842,288 838,312 824,334 814,318"/><polygon points="866,316 894,316 896,345 891,368 879,364 872,340"/><polygon points="731,306 760,298 777,320 774,345 752,348 738,328"/></g>
</mask>
<mask id="md" maskUnits="userSpaceOnUse" x="300" y="120" width="724" height="400">
<g filter="url(#blur)" fill="#fff"><polygon points="318,190 335,172 370,158 425,152 478,156 500,180 516,215 500,232 478,245 460,262 455,285 445,270 425,275 410,290 420,310 440,322 452,335 440,338 415,325 398,308 385,282 352,275 336,246 330,215"/><polygon points="606,225 618,205 640,192 662,184 700,176 722,172 722,262 690,272 650,268 622,258 608,244"/><polygon points="909,410 925,395 960,386 990,392 1006,415 1000,440 985,448 960,440 930,442 912,432"/><polygon points="640,200 700,190 730,230 700,262 650,255"/><polygon fill="#777" points="597,322 604,300 618,274 660,268 700,272 722,292 740,318 752,332 738,350 731,368 724,398 710,425 692,442 676,436 664,406 666,368 660,345 630,346 604,340"/><polygon fill="#888" points="722,172 1022,174 1022,235 985,285 930,300 858,305 800,292 738,318 722,290"/></g>
<g filter="url(#blur2)" fill="#fff"><polygon points="744,392 754,390 756,404 748,414 743,404"/><polygon points="900,345 925,343 942,355 938,363 915,360 902,353"/><polygon points="962,360 985,362 996,372 985,375 965,368"/><polygon points="804,288 842,288 838,312 824,334 814,318"/><polygon points="866,316 894,316 896,345 891,368 879,364 872,340"/><polygon points="731,306 760,298 777,320 774,345 752,348 738,328"/></g>
</mask>
<mask id="mw" maskUnits="userSpaceOnUse" x="20" y="157" width="295" height="272.5">
<g filter="url(#blur2)" fill="#fff"><polygon points="22,278 30,270 47,267 80,266 110,268 128,275 122,288 112,300 104,310 96,322 90,318 82,322 80,332 90,340 86,343 74,335 62,322 50,305 38,292 30,284"/><polygon points="133,266 150,263 155,270 146,279 138,276"/><polygon points="86,338 98,336 110,345 116,356 110,368 102,378 97,390 92,390 90,372 84,356 82,345"/><polygon points="152,290 156,278 168,268 190,262 205,266 205,300 185,302 170,300 158,298"/><polygon points="150,316 156,306 175,302 196,306 204,320 212,332 202,340 196,356 188,368 180,368 176,350 172,336 158,332 150,325"/><polygon points="205,266 235,260 270,262 300,268 316,276 316,300 304,306 296,320 284,330 276,322 270,340 264,340 258,326 250,322 244,336 239,334 234,320 222,316 214,322 205,318"/><polygon points="268,342 285,345 298,350 296,354 280,352 268,347"/><polygon points="272,362 282,355 300,354 311,364 308,375 296,378 284,374 274,372"/></g>
</mask>
</defs>
<rect x="0.00" y="0.00" width="1024.00" height="576.00" fill="url(#bg)"/>
<rect x="0.00" y="0.00" width="300.00" height="576.00" fill="url(#lf)"/>
<rect x="100.00" y="250.00" width="480.00" height="326.00" fill="url(#gr)"/>
<g fill="none" stroke="#ffffff" stroke-opacity="0.06" stroke-width="1" mask="url(#gm)">
<path d="M232 0 Q128.8 288 232 576"/>
<path d="M314 0 Q232.6 288 314 576"/>
<path d="M396 0 Q336.4 288 396 576"/>
<path d="M478 0 Q440.2 288 478 576"/>
<path d="M562 0 Q546.6 288 562 576"/>
<path d="M646 0 Q652.9 288 646 576"/>
<path d="M726 0 Q754.2 288 726 576"/>
<path d="M809 0 Q859.3 288 809 576"/>
<path d="M891 0 Q963.1 288 891 576"/>
<path d="M973 0 Q1066.9 288 973 576"/>
<path d="M1055 0 Q1170.7 288 1055 576"/>
<path d="M180 4.5 Q650 85.5 1120 4.5"/>
<path d="M180 89.3 Q650 144.7 1120 89.3"/>
<path d="M180 181.1 Q650 208.9 1120 181.1"/>
<path d="M180 273.0 Q650 273.0 1120 273.0"/>
<path d="M180 359.3 Q650 342.7 1120 359.3"/>
<path d="M180 445.6 Q650 412.4 1120 445.6"/>
<path d="M180 520.9 Q650 473.1 1120 520.9"/>
<path d="M180 590.6 Q650 529.4 1120 590.6"/>
<path d="M940 -14 A425 425 0 0 1 1060 120"/>
</g>
<ellipse cx="668" cy="222" rx="42" ry="34" fill="#9db8ff" fill-opacity="0.10" filter="url(#blur8)"/>
<g mask="url(#mm)"><rect x="300" y="120" width="724" height="400" fill="url(#dA)"/></g><g mask="url(#md)"><rect x="300" y="120" width="724" height="400" fill="url(#dB)"/></g>
<rect x="20.00" y="157.00" width="295.00" height="272.50" fill="#009ddf"/>
<g mask="url(#mw)"><rect x="20" y="157" width="295" height="272.5" fill="#6cc6f0" fill-opacity="0.06"/><rect x="20" y="157" width="295" height="272.5" fill="url(#dW)"/></g>
<text id="t0" x="137.23" y="201.00" font-size="24.5" font-weight="400" fill="#fff" textLength="64.43" lengthAdjust="spacingAndGlyphs">World</text>
<rect x="105.00" y="262.00" width="28.00" height="27.00" fill="#1f68c9"/>
<rect x="156.00" y="290.00" width="28.00" height="45.50" fill="#004b96"/>
<rect x="207.00" y="236.00" width="28.00" height="53.00" fill="#00093c"/>
<rect x="94.00" y="288.40" width="152.00" height="2.60" fill="#fff"/>
<text id="t1" x="102.81" y="251.50" font-size="22.3" font-weight="700" fill="#fff" stroke="#fff" stroke-width="0.4" stroke-linejoin="round" textLength="35.18" lengthAdjust="spacingAndGlyphs">2.8</text>
<text><tspan id="t2" x="143.84" y="279.60" font-size="17.8" font-weight="700" fill="#fff" textLength="11.07" lengthAdjust="spacingAndGlyphs">-</tspan><tspan id="t3" x="154.52" y="281.50" font-size="22.3" font-weight="700" fill="#fff" stroke="#fff" stroke-width="0.4" stroke-linejoin="round" textLength="34.49" lengthAdjust="spacingAndGlyphs">4.4</tspan></text>
<text id="t4" x="204.02" y="227.00" font-size="22.3" font-weight="700" fill="#fff" stroke="#fff" stroke-width="0.4" stroke-linejoin="round" textLength="36.02" lengthAdjust="spacingAndGlyphs">5.2</text>
<text id="t5" x="104.54" y="358.70" font-size="11.8" font-weight="700" fill="#071a50" stroke="#071a50" stroke-width="0.25" stroke-linejoin="round" textLength="32.16" lengthAdjust="spacingAndGlyphs">2019</text>
<text id="t6" x="155.16" y="358.70" font-size="11.8" font-weight="700" fill="#071a50" stroke="#071a50" stroke-width="0.25" stroke-linejoin="round" textLength="31.56" lengthAdjust="spacingAndGlyphs">2020</text>
<text id="t7" x="206.53" y="358.70" font-size="11.8" font-weight="700" fill="#071a50" stroke="#071a50" stroke-width="0.25" stroke-linejoin="round" textLength="30.61" lengthAdjust="spacingAndGlyphs">2021</text>
<text id="t8" x="99.44" y="372.80" font-size="10.2" font-weight="400" fill="#0b2a66" textLength="39.92" lengthAdjust="spacingAndGlyphs">Estimate</text>
<text id="t9" x="170.25" y="372.80" font-size="10.2" font-weight="400" fill="#0b2a66" textLength="54.88" lengthAdjust="spacingAndGlyphs">Projections</text>
<text id="t10" x="56.12" y="413.60" font-size="13.5" font-weight="400" fill="#fff" textLength="223.84" lengthAdjust="spacingAndGlyphs">(real GDP growth, percent change)</text>
<text><tspan id="t11" x="84.41" y="56.00" font-size="36.3" font-weight="700" fill="#fff" textLength="97.38" lengthAdjust="spacingAndGlyphs">Latest</tspan> <tspan id="t12" x="192.83" y="56.00" font-size="36.3" font-weight="700" fill="#fff" textLength="103.14" lengthAdjust="spacingAndGlyphs">World</tspan> <tspan id="t13" x="305.30" y="56.00" font-size="36.3" font-weight="700" fill="#fff" textLength="164.55" lengthAdjust="spacingAndGlyphs">Economic</tspan> <tspan id="t14" x="477.22" y="56.00" font-size="36.3" font-weight="700" fill="#fff" textLength="138.60" lengthAdjust="spacingAndGlyphs">Outlook</tspan> <tspan id="t15" x="624.86" y="56.00" font-size="36.3" font-weight="700" fill="#fff" textLength="120.57" lengthAdjust="spacingAndGlyphs">growth</tspan> <tspan id="t16" x="754.64" y="56.00" font-size="36.3" font-weight="700" fill="#fff" textLength="186.18" lengthAdjust="spacingAndGlyphs">projections</tspan> </text>
<text id="t17" x="438.84" y="88.00" font-size="20" font-weight="400" fill="#fff" textLength="147.73" lengthAdjust="spacingAndGlyphs">(percent change)</text>
<text id="t18" x="361.48" y="135.60" font-size="14" font-weight="700" fill="#f9bf1e" stroke="#f9bf1e" stroke-width="0.4" stroke-linejoin="round" textLength="107.86" lengthAdjust="spacingAndGlyphs">UNITED STATES</text>
<rect x="358.00" y="188.00" width="26.50" height="20.00" fill="#f4a900"/>
<rect x="400.30" y="208.00" width="26.70" height="47.50" fill="#e65100"/>
<rect x="442.50" y="175.00" width="26.50" height="33.00" fill="#d03e02"/>
<rect x="350.00" y="207.20" width="127.00" height="2.10" fill="#fff"/>
<text id="t19" x="357.69" y="181.00" font-size="18.6" font-weight="700" fill="#fff" stroke="#fff" stroke-width="0.4" stroke-linejoin="round" textLength="28.98" lengthAdjust="spacingAndGlyphs">2.2</text>
<text><tspan id="t20" x="389.97" y="199.42" font-size="14.9" font-weight="700" fill="#fff" textLength="9.22" lengthAdjust="spacingAndGlyphs">-</tspan><tspan id="t21" x="398.48" y="201.00" font-size="18.6" font-weight="700" fill="#fff" stroke="#fff" stroke-width="0.4" stroke-linejoin="round" textLength="28.52" lengthAdjust="spacingAndGlyphs">4.3</tspan></text>
<text id="t22" x="442.26" y="170.00" font-size="18.6" font-weight="700" fill="#fff" stroke="#fff" stroke-width="0.4" stroke-linejoin="round" textLength="27.06" lengthAdjust="spacingAndGlyphs">3.1</text>
<text id="t23" x="360.63" y="217.20" font-size="7.7" font-weight="700" fill="#fff" stroke="#fff" stroke-width="0.15" stroke-linejoin="round" textLength="20.71" lengthAdjust="spacingAndGlyphs">2019</text>
<text id="t24" x="403.70" y="217.20" font-size="7.7" font-weight="700" fill="#fff" stroke="#fff" stroke-width="0.15" stroke-linejoin="round" textLength="20.58" lengthAdjust="spacingAndGlyphs">2020</text>
<text id="t25" x="445.69" y="217.20" font-size="7.7" font-weight="700" fill="#fff" stroke="#fff" stroke-width="0.15" stroke-linejoin="round" textLength="20.75" lengthAdjust="spacingAndGlyphs">2021</text>
<text id="t26" x="561.28" y="138.00" font-size="14" font-weight="700" fill="#f9bf1e" stroke="#f9bf1e" stroke-width="0.4" stroke-linejoin="round" textLength="81.40" lengthAdjust="spacingAndGlyphs">EURO AREA</text>
<rect x="546.00" y="206.80" width="27.00" height="14.20" fill="#f44d3f"/>
<rect x="589.50" y="221.00" width="26.80" height="79.00" fill="#da291c"/>
<rect x="631.30" y="168.50" width="26.70" height="52.50" fill="#c0150b"/>
<rect x="538.00" y="220.20" width="128.00" height="2.20" fill="#fff"/>
<text id="t27" x="543.68" y="201.00" font-size="18.6" font-weight="700" fill="#fff" stroke="#fff" stroke-width="0.4" stroke-linejoin="round" textLength="29.16" lengthAdjust="spacingAndGlyphs">1.3</text>
<text><tspan id="t28" x="580.97" y="212.42" font-size="14.9" font-weight="700" fill="#fff" textLength="9.22" lengthAdjust="spacingAndGlyphs">-</tspan><tspan id="t29" x="589.17" y="214.00" font-size="18.6" font-weight="700" fill="#fff" stroke="#fff" stroke-width="0.4" stroke-linejoin="round" textLength="27.71" lengthAdjust="spacingAndGlyphs">8.3</tspan></text>
<text id="t30" x="630.62" y="163.00" font-size="18.6" font-weight="700" fill="#fff" stroke="#fff" stroke-width="0.4" stroke-linejoin="round" textLength="28.43" lengthAdjust="spacingAndGlyphs">5.2</text>
<text id="t31" x="549.63" y="230.20" font-size="7.7" font-weight="700" fill="#fff" stroke="#fff" stroke-width="0.15" stroke-linejoin="round" textLength="20.71" lengthAdjust="spacingAndGlyphs">2019</text>
<text id="t32" x="592.70" y="230.20" font-size="7.7" font-weight="700" fill="#fff" stroke="#fff" stroke-width="0.15" stroke-linejoin="round" textLength="20.58" lengthAdjust="spacingAndGlyphs">2020</text>
<text id="t33" x="634.69" y="230.20" font-size="7.7" font-weight="700" fill="#fff" stroke="#fff" stroke-width="0.15" stroke-linejoin="round" textLength="20.75" lengthAdjust="spacingAndGlyphs">2021</text>
<text id="t34" x="702.10" y="168.00" font-size="14" font-weight="700" fill="#f9bf1e" stroke="#f9bf1e" stroke-width="0.4" stroke-linejoin="round" textLength="129.24" lengthAdjust="spacingAndGlyphs">MIDDLE EAST AND</text>
<text id="t35" x="715.49" y="184.30" font-size="14" font-weight="700" fill="#f9bf1e" stroke="#f9bf1e" stroke-width="0.4" stroke-linejoin="round" textLength="101.01" lengthAdjust="spacingAndGlyphs">CENTRAL ASIA</text>
<rect x="712.00" y="248.80" width="27.00" height="12.20" fill="#b4d98b"/>
<rect x="753.60" y="261.00" width="26.60" height="45.20" fill="#78be21"/>
<rect x="795.80" y="230.00" width="26.70" height="31.00" fill="#5e8b1d"/>
<rect x="704.00" y="260.60" width="127.00" height="2.20" fill="#fff"/>
<text id="t36" x="709.61" y="243.00" font-size="18.6" font-weight="700" fill="#fff" stroke="#fff" stroke-width="0.4" stroke-linejoin="round" textLength="29.33" lengthAdjust="spacingAndGlyphs">1.4</text>
<text><tspan id="t37" x="747.97" y="252.92" font-size="14.9" font-weight="700" fill="#fff" textLength="9.22" lengthAdjust="spacingAndGlyphs">-</tspan><tspan id="t38" x="756.37" y="254.50" font-size="18.6" font-weight="700" fill="#fff" stroke="#fff" stroke-width="0.4" stroke-linejoin="round" textLength="26.10" lengthAdjust="spacingAndGlyphs">4.1</tspan></text>
<text id="t39" x="795.33" y="224.70" font-size="18.6" font-weight="700" fill="#fff" stroke="#fff" stroke-width="0.4" stroke-linejoin="round" textLength="29.80" lengthAdjust="spacingAndGlyphs">3.0</text>
<text id="t40" x="714.63" y="270.60" font-size="7.7" font-weight="700" fill="#fff" stroke="#fff" stroke-width="0.15" stroke-linejoin="round" textLength="20.71" lengthAdjust="spacingAndGlyphs">2019</text>
<text id="t41" x="757.32" y="270.60" font-size="7.7" font-weight="700" fill="#fff" stroke="#fff" stroke-width="0.15" stroke-linejoin="round" textLength="20.49" lengthAdjust="spacingAndGlyphs">2020</text>
<text id="t42" x="799.62" y="270.60" font-size="7.7" font-weight="700" fill="#fff" stroke="#fff" stroke-width="0.15" stroke-linejoin="round" textLength="19.75" lengthAdjust="spacingAndGlyphs">2021</text>
<text id="t43" x="870.98" y="182.00" font-size="14" font-weight="700" fill="#f9bf1e" stroke="#f9bf1e" stroke-width="0.4" stroke-linejoin="round" textLength="111.65" lengthAdjust="spacingAndGlyphs">EMERGING AND</text>
<text id="t44" x="861.92" y="196.00" font-size="14" font-weight="700" fill="#f9bf1e" stroke="#f9bf1e" stroke-width="0.4" stroke-linejoin="round" textLength="128.26" lengthAdjust="spacingAndGlyphs">DEVELOPING ASIA</text>
<rect x="870.50" y="256.00" width="26.70" height="55.00" fill="#f9c34c"/>
<rect x="912.50" y="311.00" width="26.70" height="18.50" fill="#f4a800"/>
<rect x="955.00" y="230.50" width="26.80" height="80.50" fill="#df8400"/>
<rect x="862.50" y="310.60" width="127.50" height="2.30" fill="#fff"/>
<text id="t45" x="869.97" y="250.50" font-size="18.6" font-weight="700" fill="#fff" stroke="#fff" stroke-width="0.4" stroke-linejoin="round" textLength="28.73" lengthAdjust="spacingAndGlyphs">5.5</text>
<text><tspan id="t46" x="904.97" y="302.92" font-size="14.9" font-weight="700" fill="#fff" textLength="9.22" lengthAdjust="spacingAndGlyphs">-</tspan><tspan id="t47" x="913.75" y="304.50" font-size="18.6" font-weight="700" fill="#fff" stroke="#fff" stroke-width="0.4" stroke-linejoin="round" textLength="27.90" lengthAdjust="spacingAndGlyphs">1.7</tspan></text>
<text id="t48" x="956.44" y="225.00" font-size="18.6" font-weight="700" fill="#fff" stroke="#fff" stroke-width="0.4" stroke-linejoin="round" textLength="28.25" lengthAdjust="spacingAndGlyphs">8.0</text>
<text id="t49" x="873.63" y="320.60" font-size="7.7" font-weight="700" fill="#fff" stroke="#fff" stroke-width="0.15" stroke-linejoin="round" textLength="20.71" lengthAdjust="spacingAndGlyphs">2019</text>
<text id="t50" x="916.70" y="320.60" font-size="7.7" font-weight="700" fill="#fff" stroke="#fff" stroke-width="0.15" stroke-linejoin="round" textLength="20.58" lengthAdjust="spacingAndGlyphs">2020</text>
<text id="t51" x="959.16" y="320.60" font-size="7.7" font-weight="700" fill="#fff" stroke="#fff" stroke-width="0.15" stroke-linejoin="round" textLength="19.26" lengthAdjust="spacingAndGlyphs">2021</text>
<text id="t52" x="421.30" y="325.80" font-size="14" font-weight="700" fill="#f9bf1e" stroke="#f9bf1e" stroke-width="0.4" stroke-linejoin="round" textLength="145.70" lengthAdjust="spacingAndGlyphs">LATIN AMERICA AND</text>
<text id="t53" x="439.65" y="341.00" font-size="14" font-weight="700" fill="#f9bf1e" stroke="#f9bf1e" stroke-width="0.4" stroke-linejoin="round" textLength="110.88" lengthAdjust="spacingAndGlyphs">THE CARIBBEAN</text>
<rect x="439.50" y="408.80" width="27.00" height="3.20" fill="#d37ffb"/>
<rect x="482.00" y="412.00" width="27.00" height="81.80" fill="#b61fff"/>
<rect x="524.50" y="377.00" width="26.70" height="35.00" fill="#7d30a3"/>
<rect x="432.00" y="411.20" width="127.00" height="2.30" fill="#fff"/>
<text id="t54" x="439.16" y="403.00" font-size="18.6" font-weight="700" fill="#fff" stroke="#fff" stroke-width="0.4" stroke-linejoin="round" textLength="29.23" lengthAdjust="spacingAndGlyphs">0.0</text>
<text><tspan id="t55" x="473.97" y="404.42" font-size="14.9" font-weight="700" fill="#fff" textLength="9.22" lengthAdjust="spacingAndGlyphs">-</tspan><tspan id="t56" x="482.19" y="406.00" font-size="18.6" font-weight="700" fill="#fff" stroke="#fff" stroke-width="0.4" stroke-linejoin="round" textLength="27.20" lengthAdjust="spacingAndGlyphs">8.1</tspan></text>
<text id="t57" x="523.70" y="371.80" font-size="18.6" font-weight="700" fill="#fff" stroke="#fff" stroke-width="0.4" stroke-linejoin="round" textLength="29.69" lengthAdjust="spacingAndGlyphs">3.6</text>
<text id="t58" x="442.63" y="421.20" font-size="7.7" font-weight="700" fill="#fff" stroke="#fff" stroke-width="0.15" stroke-linejoin="round" textLength="20.71" lengthAdjust="spacingAndGlyphs">2019</text>
<text id="t59" x="485.32" y="421.20" font-size="7.7" font-weight="700" fill="#fff" stroke="#fff" stroke-width="0.15" stroke-linejoin="round" textLength="20.49" lengthAdjust="spacingAndGlyphs">2020</text>
<text id="t60" x="528.01" y="421.20" font-size="7.7" font-weight="700" fill="#fff" stroke="#fff" stroke-width="0.15" stroke-linejoin="round" textLength="19.73" lengthAdjust="spacingAndGlyphs">2021</text>
<text id="t61" x="656.54" y="363.30" font-size="14" font-weight="700" fill="#f9bf1e" stroke="#f9bf1e" stroke-width="0.4" stroke-linejoin="round" textLength="157.51" lengthAdjust="spacingAndGlyphs">SUB-SAHARAN AFRICA</text>
<rect x="682.00" y="406.30" width="26.80" height="35.20" fill="#17e5f3"/>
<rect x="725.00" y="441.50" width="26.80" height="31.00" fill="#10adb5"/>
<rect x="767.00" y="411.30" width="26.80" height="30.20" fill="#0885ab"/>
<rect x="674.50" y="440.80" width="126.50" height="2.30" fill="#fff"/>
<text id="t62" x="680.77" y="401.30" font-size="18.6" font-weight="700" fill="#fff" stroke="#fff" stroke-width="0.4" stroke-linejoin="round" textLength="29.17" lengthAdjust="spacingAndGlyphs">3.2</text>
<text><tspan id="t63" x="718.61" y="433.92" font-size="14.9" font-weight="700" fill="#fff" textLength="9.05" lengthAdjust="spacingAndGlyphs">-</tspan><tspan id="t64" x="726.64" y="435.50" font-size="18.6" font-weight="700" fill="#fff" stroke="#fff" stroke-width="0.4" stroke-linejoin="round" textLength="30.03" lengthAdjust="spacingAndGlyphs">3.0</tspan></text>
<text id="t65" x="765.76" y="405.80" font-size="18.6" font-weight="700" fill="#fff" stroke="#fff" stroke-width="0.4" stroke-linejoin="round" textLength="27.03" lengthAdjust="spacingAndGlyphs">3.1</text>
<text id="t66" x="685.37" y="450.90" font-size="7.7" font-weight="700" fill="#fff" stroke="#fff" stroke-width="0.15" stroke-linejoin="round" textLength="20.32" lengthAdjust="spacingAndGlyphs">2019</text>
<text id="t67" x="727.70" y="450.90" font-size="7.7" font-weight="700" fill="#fff" stroke="#fff" stroke-width="0.15" stroke-linejoin="round" textLength="20.58" lengthAdjust="spacingAndGlyphs">2020</text>
<text id="t68" x="770.47" y="450.90" font-size="7.7" font-weight="700" fill="#fff" stroke="#fff" stroke-width="0.15" stroke-linejoin="round" textLength="19.30" lengthAdjust="spacingAndGlyphs">2021</text>
<text><tspan id="t69" x="18.52" y="556.80" font-size="17" font-weight="700" fill="#fff" stroke="#fff" stroke-width="0.2" stroke-linejoin="round" textLength="34.00" lengthAdjust="spacingAndGlyphs">IMF.</tspan><tspan id="t70" x="51.29" y="556.80" font-size="17" font-weight="400" fill="#fff" textLength="73.61" lengthAdjust="spacingAndGlyphs">org/social</tspan></text>
<text><tspan id="t71" x="356.24" y="541.20" font-size="11" font-weight="700" fill="#fff" textLength="35.79" lengthAdjust="spacingAndGlyphs">Source:</tspan> <tspan id="t72" x="395.71" y="541.20" font-size="11" font-weight="400" fill="#eef2fa" textLength="19.17" lengthAdjust="spacingAndGlyphs">IMF,</tspan> <tspan id="t73" x="417.87" y="541.20" font-size="11" font-weight="400" fill="#eef2fa" font-style="italic" textLength="120.31" lengthAdjust="spacingAndGlyphs">World Economic Outlook</tspan><tspan id="t74" x="537.65" y="541.20" font-size="11" font-weight="400" fill="#eef2fa" textLength="78.83" lengthAdjust="spacingAndGlyphs">, October 2020.</tspan></text>
<text><tspan id="t75" x="357.77" y="556.90" font-size="11" font-weight="700" fill="#fff" textLength="28.40" lengthAdjust="spacingAndGlyphs">Note:</tspan> <tspan id="t76" x="390.88" y="556.90" font-size="11" font-weight="400" fill="#eef2fa" textLength="479.67" lengthAdjust="spacingAndGlyphs">Order of bars for each group indicates (left to right): 2019, 2020 projections, and 2021 projections.</tspan></text>
</svg>
</body></html>
